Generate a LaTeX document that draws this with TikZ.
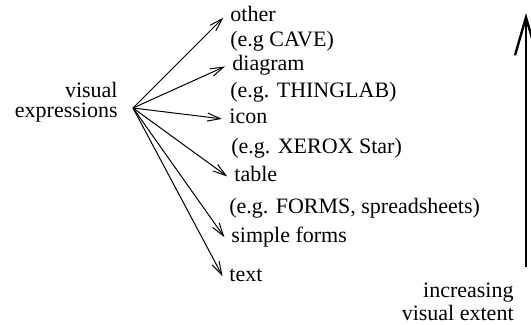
\documentclass[tikz,border=0pt]{standalone}
\usepackage{fontspec}
\setmainfont{Liberation Serif}
\usetikzlibrary{arrows.meta}

\begin{document}
\begin{tikzpicture}[x=0.5pt,y=-0.5pt,
  font=\fontsize{11pt}{11pt}\selectfont,
  lbl/.style={anchor=base west,inner ysep=0pt,inner xsep=3pt,text height=0.7em,text depth=0.2em},
  fan/.style={line width=0.5pt,-{Straight Barb[length=6.5pt,width=4pt]},shorten >=0.5pt},
  scale arrow/.style={line width=1.2pt,-{Straight Barb[length=19pt,width=11pt]}}]

  \useasboundingbox (0,0) rectangle (531,325);

  \node[align=right,anchor=east,inner sep=0pt,font=\fontsize{11pt}{10pt}\selectfont] (ve) at (118,102) {visual\\expressions};
  \coordinate (src) at (133,108);

  \node[lbl] (other) at (224,22) {other};
  \node[lbl] (cave) at (224,47) {(e.g CAVE)};
  \node[lbl] (diagram) at (226,71) {diagram};
  \node[lbl] (thinglab) at (224,98) {(e.g. THINGLAB)};
  \node[lbl] (icon) at (223,124) {icon};
  \node[lbl] (xerox) at (225,154) {(e.g. XEROX Star)};
  \node[lbl] (table) at (228,182) {table};
  \node[lbl] (forms) at (223,214) {(e.g. FORMS, spreadsheets)};
  \node[lbl] (simple) at (225,243) {simple forms};
  \node[lbl] (txt) at (223,282) {text};

  \foreach \n in {other,diagram,icon,table,simple,txt}
    \draw[fan] (src) -- (\n.west);

  % scale on the right
  \coordinate (low) at (526,267);
  \coordinate (high) at (526,13);
  \draw[scale arrow] (low) -- (high);
  \node[align=right,anchor=east,inner sep=0pt,font=\fontsize{11pt}{11.5pt}\selectfont] (extent) at (514,302) {increasing\\visual extent};
\end{tikzpicture}
\end{document}
